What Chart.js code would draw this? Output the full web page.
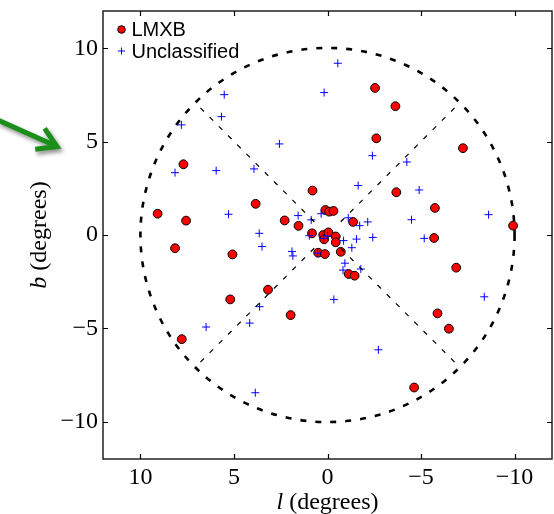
<!DOCTYPE html>
<html>
<head>
<meta charset="utf-8">
<script src="https://cdn.jsdelivr.net/npm/chart.js@4/dist/chart.umd.min.js"></script>
<style>
html,body{margin:0;padding:0;background:#fff;}
#wrap{width:554px;height:514px;position:relative;}
</style>
</head>
<body>
<div id="wrap"><canvas id="c" width="554" height="514"></canvas></div>
<script>
// ---- data (galactic longitude l, latitude b in degrees) ----
const lmxbL = [-2.54,-3.63,-2.61,-7.24,7.70,0.80,-3.68,9.08,3.84,-5.74,7.56,2.29,1.55,0.11,-0.09,-0.32,-1.37,-9.92,8.15,0.83,0.23,0.18,-0.05,-0.44,-0.44,0.50,0.14,-0.71,5.08,-5.70,-6.88,3.18,5.20,1.97,-1.13,-1.45,-5.88,-6.49,7.79,-4.63];
const lmxbB = [7.88,6.90,5.18,4.65,3.79,2.38,2.29,1.14,1.67,1.45,0.77,0.78,0.49,1.34,1.25,1.29,0.70,0.50,-0.71,0.09,0.00,-0.23,0.14,-0.08,-0.39,-0.95,-1.02,-0.90,-1.04,-0.16,-1.75,-2.93,-3.45,-4.29,-2.09,-2.18,-4.20,-5.02,-5.58,-8.17];
const uncL = [-0.55,0.18,5.52,5.67,7.81,2.57,-2.40,-4.24,8.15,5.95,3.93,-1.64,-4.90,5.29,-8.61,1.57,0.34,0.87,-1.11,-1.72,-2.15,-4.49,3.65,0.97,0.20,0.00,-0.86,-1.55,-2.42,-5.17,3.50,1.90,1.85,0.52,-1.30,-0.93,-0.83,-1.78,-0.34,-8.38,3.63,4.16,6.49,-2.72,3.86];
const uncB = [9.20,7.63,7.52,6.34,5.90,4.88,4.25,3.91,3.34,3.45,3.54,2.65,2.41,1.11,1.09,1.04,1.14,0.81,0.92,0.50,0.70,0.82,0.09,-0.04,-0.18,-0.05,-0.30,-0.22,-0.13,-0.18,-0.62,-0.88,-1.12,-0.97,-0.68,-1.51,-1.88,-1.82,-3.45,-3.31,-3.84,-4.72,-4.93,-6.15,-8.45];
const xTicks = [10,5,0,-5,-10];
const yTicks = [10,5,0,-5,-10];
const seriesNames = ['LMXB','Unclassified'];
const xTitle = ['l',' (degrees)'];
const yTitle = ['b',' (degrees)'];
const circleRadius = 10;

const toPts = (xs, ys) => xs.map((v, i) => ({x: v, y: ys[i]}));
const fmt = v => (v < 0 ? '\u2212' + Math.abs(v) : String(v));
const serif = '"Liberation Serif", "DejaVu Serif", serif';
const sans = '"Liberation Sans", "DejaVu Sans", sans-serif';

const decor = {
  id: 'decor',
  afterDatasetsDraw(chart) {
    const {ctx, chartArea: a, scales: {x, y}} = chart;
    const cx = x.getPixelForValue(0), cy = y.getPixelForValue(0);
    const r = Math.abs(x.getPixelForValue(circleRadius) - cx);
    ctx.save();
    ctx.beginPath(); ctx.rect(a.left, a.top, a.right - a.left, a.bottom - a.top); ctx.clip();
    // diagonal guide lines
    ctx.strokeStyle = '#000'; ctx.lineWidth = 1.2; ctx.setLineDash([5, 8]);
    [45, 135, 225, 315].forEach(d => {
      const t = d * Math.PI / 180;
      ctx.beginPath();
      ctx.moveTo(cx + Math.cos(t) * r * 0.1, cy - Math.sin(t) * r * 0.1);
      ctx.lineTo(cx + Math.cos(t) * r, cy - Math.sin(t) * r);
      ctx.stroke();
    });
    // dashed circle
    ctx.lineWidth = 2.6; ctx.setLineDash([6, 9]);
    ctx.beginPath(); ctx.arc(cx, cy, r, 0, Math.PI * 2); ctx.stroke();
    ctx.restore();
  },
  afterDraw(chart) {
    const {ctx, chartArea: a, scales: {x, y}} = chart;
    ctx.save();
    // frame
    ctx.strokeStyle = '#222'; ctx.lineWidth = 1.5; ctx.setLineDash([]);
    ctx.strokeRect(a.left, a.top, a.right - a.left, a.bottom - a.top);
    // inward ticks on all sides
    ctx.lineWidth = 1.2; ctx.strokeStyle = '#000';
    const tl = 5;
    xTicks.forEach(v => {
      const px = Math.round(x.getPixelForValue(v)) + 0.5;
      ctx.beginPath(); ctx.moveTo(px, a.bottom); ctx.lineTo(px, a.bottom - tl);
      ctx.moveTo(px, a.top); ctx.lineTo(px, a.top + tl); ctx.stroke();
    });
    yTicks.forEach(v => {
      const py = Math.round(y.getPixelForValue(v)) + 0.5;
      ctx.beginPath(); ctx.moveTo(a.left, py); ctx.lineTo(a.left + tl, py);
      ctx.moveTo(a.right, py); ctx.lineTo(a.right - tl, py); ctx.stroke();
    });
    // legend
    const lx = a.left + 18.5;
    const ly1 = a.top + 18.5, ly2 = a.top + 40;
    ctx.fillStyle = '#ff0000'; ctx.strokeStyle = '#000'; ctx.lineWidth = 1;
    ctx.beginPath(); ctx.arc(lx, ly1, 3.8, 0, Math.PI * 2); ctx.fill(); ctx.stroke();
    ctx.strokeStyle = '#0000ff'; ctx.lineWidth = 1;
    ctx.beginPath(); ctx.moveTo(lx - 3.5, ly2); ctx.lineTo(lx + 3.5, ly2);
    ctx.moveTo(lx, ly2 - 3.5); ctx.lineTo(lx, ly2 + 3.5); ctx.stroke();
    ctx.fillStyle = '#000'; ctx.font = '20px ' + sans; ctx.textBaseline = 'middle'; ctx.textAlign = 'left';
    ctx.fillText(seriesNames[0], lx + 10, ly1 + 1);
    ctx.fillText(seriesNames[1], lx + 10, ly2 + 1);
    // axis titles (italic symbol + upright text)
    ctx.textBaseline = 'alphabetic';
    const drawTitle = (parts, px, py, rot) => {
      ctx.save(); ctx.translate(px, py); if (rot) ctx.rotate(-Math.PI / 2);
      ctx.font = 'italic 24px ' + serif; const w1 = ctx.measureText(parts[0]).width;
      ctx.font = '24px ' + serif; const w2 = ctx.measureText(parts[1]).width;
      let sx = -(w1 + w2) / 2;
      ctx.font = 'italic 24px ' + serif; ctx.fillText(parts[0], sx, 0);
      ctx.font = '24px ' + serif; ctx.fillText(parts[1], sx + w1, 0);
      ctx.restore();
    };
    drawTitle(xTitle, (a.left + a.right) / 2, 509, false);
    drawTitle(yTitle, 46, (a.top + a.bottom) / 2, true);
    // green arrow annotation
    ctx.save();
    ctx.shadowColor = 'rgba(0,0,0,0.45)'; ctx.shadowBlur = 4; ctx.shadowOffsetX = 2; ctx.shadowOffsetY = 3;
    ctx.strokeStyle = '#1a8f1a'; ctx.lineWidth = 5; ctx.lineCap = 'butt'; ctx.lineJoin = 'miter';
    const x0 = -2, y0 = 120, x1 = 57, y1 = 146.5;
    const ang = Math.atan2(y1 - y0, x1 - x0);
    ctx.beginPath(); ctx.moveTo(x0, y0); ctx.lineTo(x1 - 3 * Math.cos(ang), y1 - 3 * Math.sin(ang));
    const L = 22, sp = 0.55;
    ctx.moveTo(x1 - L * Math.cos(ang - sp), y1 - L * Math.sin(ang - sp));
    ctx.lineTo(x1, y1);
    ctx.lineTo(x1 - L * Math.cos(ang + sp), y1 - L * Math.sin(ang + sp));
    ctx.stroke();
    ctx.restore();
    ctx.restore();
  }
};

new Chart(document.getElementById('c'), {
  type: 'scatter',
  data: {
    datasets: [
      {label: seriesNames[0], data: toPts(lmxbL, lmxbB), order: 1,
       pointStyle: 'circle', pointRadius: 4.4, backgroundColor: '#ff0000', borderColor: '#000', borderWidth: 1},
      {label: seriesNames[1], data: toPts(uncL, uncB), order: 0,
       pointStyle: 'cross', pointRadius: 4, backgroundColor: '#0000ff', borderColor: '#0000ff', borderWidth: 1}
    ]
  },
  options: {
    responsive: false, animation: false, devicePixelRatio: 1,
    layout: {autoPadding: false, padding: {top: 11, right: 2, left: 0, bottom: 0}},
    plugins: {legend: {display: false}, tooltip: {enabled: false}},
    elements: {point: {hoverRadius: 4}},
    scales: {
      x: {type: 'linear', min: -12, max: 12, reverse: true,
          grid: {display: false, drawTicks: false}, border: {display: false},
          afterBuildTicks: s => { s.ticks = xTicks.map(v => ({value: v})); },
          afterFit: s => { s.height = 55; s.paddingLeft = 0; s.paddingRight = 0; },
          ticks: {padding: 4, color: '#000', font: {family: serif, size: 24}, callback: v => fmt(v), maxRotation: 0}},
      y: {type: 'linear', min: -12, max: 12,
          grid: {display: false, drawTicks: false}, border: {display: false},
          afterBuildTicks: s => { s.ticks = yTicks.map(v => ({value: v})); },
          afterFit: s => { s.width = 103; s.paddingTop = 0; s.paddingBottom = 0; },
          ticks: {padding: 5, color: '#000', font: {family: serif, size: 24}, callback: v => fmt(v)}}
    }
  },
  plugins: [decor]
});
</script>
</body>
</html>
